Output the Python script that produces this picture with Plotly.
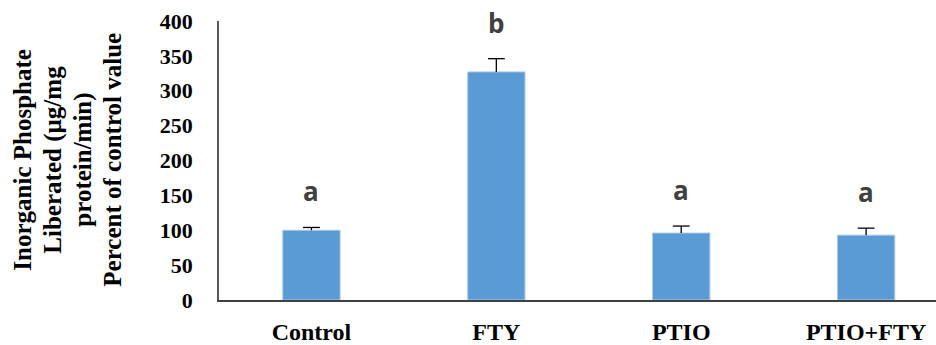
import plotly.graph_objects as go

categories = ["Control", "FTY", "PTIO", "PTIO+FTY"]
values = [100, 327, 96, 93]
errors = [4, 19, 10, 10]
letters = ["a", "b", "a", "a"]
y_ticks = [0, 50, 100, 150, 200, 250, 300, 350, 400]
title_lines = ["Inorganic Phosphate", "Liberated (µg/mg", "protein/min)", "Percent of control value"]

fig = go.Figure()
fig.add_trace(go.Bar(
    x=categories, y=values,
    marker=dict(color="#5B9BD5", line=dict(color="#A9C8EA", width=1)),
    width=0.31, hoverinfo="skip",
))

# upward-only error bars: stems and caps
stem_x, stem_y = [], []
for c, v, e in zip(categories, values, errors):
    stem_x += [c, c, None]
    stem_y += [v, v + e, None]
fig.add_trace(go.Scatter(x=stem_x, y=stem_y, mode="lines",
                         line=dict(color="#000000", width=1.3), hoverinfo="skip"))
fig.add_trace(go.Scatter(x=categories, y=[v + e for v, e in zip(values, errors)], mode="markers",
                         marker=dict(symbol="line-ew-open", size=12, color="#000000",
                                     line=dict(color="#000000", width=1.3)),
                         hoverinfo="skip"))

for c, v, e, l in zip(categories, values, errors, letters):
    fig.add_annotation(x=c, y=v + e, text=l, showarrow=False, yanchor="bottom", yshift=16,
                       font=dict(family="Open Sans", size=26, color="#404040", weight="bold"))

title_px = [23, 53, 83, 113]
for line, px in zip(title_lines, title_px):
    fig.add_annotation(
        xref="paper", yref="paper", x=(px - 219) / (936 - 219), y=0.503,
        xanchor="center", yanchor="middle", text="<b>" + line + "</b>",
        textangle=-90, showarrow=False,
        font=dict(family="Liberation Serif", size=25, color="#000000"))

fig.update_layout(
    width=936, height=345,
    margin=dict(l=219, r=0, t=21, b=44.5, pad=0),
    paper_bgcolor="white", plot_bgcolor="white",
    showlegend=False,
)
fig.update_xaxes(
    range=[-0.5, 3.378], showline=True, linecolor="#404040", linewidth=2,
    ticks="", ticklabelstandoff=9, automargin=False,
    tickfont=dict(family="Liberation Serif", size=24, color="#000000", weight="bold"),
    showgrid=False, zeroline=False,
)
fig.update_yaxes(
    range=[0, 400], tickvals=y_ticks, showline=True, linecolor="#595959", linewidth=1.5,
    ticks="", ticklabelstandoff=20, showgrid=False, zeroline=False, automargin=False,
    tickfont=dict(family="Liberation Serif", size=22, color="#000000", weight="bold"),
)

fig.write_html("out.html", config={"displayModeBar": False},
               post_script="document.body.style.margin='0';document.body.style.overflow='hidden';")
